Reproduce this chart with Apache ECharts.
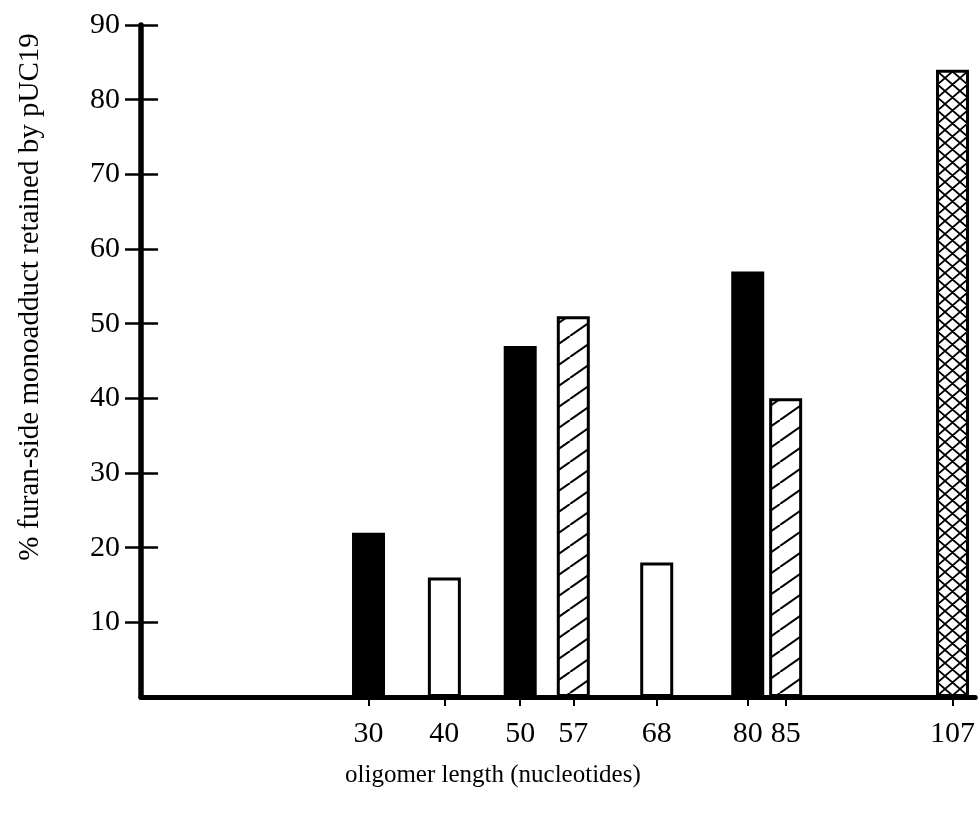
<!DOCTYPE html>
<html><head><meta charset="utf-8">
<script src="https://cdn.jsdelivr.net/npm/echarts@6/dist/echarts.min.js"></script>
<style>html,body{margin:0;padding:0;background:#fff}#c{width:978px;height:816px}</style>
</head><body><div id="c"></div>
<script>
const lengths = [30, 40, 50, 57, 68, 80, 85, 107];
const retained = [22, 16, 47, 51, 18, 57, 40, 84];
const fills = ['solid', 'open', 'solid', 'hatch', 'open', 'solid', 'hatch', 'cross'];
const yTicks = [10, 20, 30, 40, 50, 60, 70, 80, 90];
const xTitle = 'oligomer length (nucleotides)';
const yTitle = '% furan-side monoadduct retained by pUC19';

function makePattern(kind) {
  const c = document.createElement('canvas');
  let w, h;
  if (kind === 'hatch') { w = 30; h = 21; } else { w = 15; h = 13; }
  c.width = w; c.height = h;
  const g = c.getContext('2d');
  g.fillStyle = '#fff'; g.fillRect(0, 0, w, h);
  g.strokeStyle = '#000'; g.lineWidth = kind === 'hatch' ? 2 : 1.8;
  g.beginPath();
  if (kind === 'hatch') {
    for (let k = -1; k <= 1; k++) { g.moveTo(k * w, h); g.lineTo(w + k * w, 0); }
  } else {
    for (let k = -1; k <= 1; k++) {
      g.moveTo(k * w, h); g.lineTo(w + k * w, 0);
      g.moveTo(k * w, 0); g.lineTo(w + k * w, h);
    }
  }
  g.stroke();
  return { image: c, repeat: 'repeat' };
}
const styleFor = {
  solid: { color: '#000', borderColor: '#000', borderWidth: 0 },
  open: { color: '#fff', borderColor: '#000', borderWidth: 3 },
  hatch: { color: makePattern('hatch'), borderColor: '#000', borderWidth: 3 },
  cross: { color: makePattern('cross'), borderColor: '#000', borderWidth: 3 }
};

const font = 'Liberation Serif';
const chart = echarts.init(document.getElementById('c'));
chart.setOption({
  animation: false,
  backgroundColor: '#fff',
  grid: { left: 141, right: 1, top: 25, bottom: 119, containLabel: false },
  xAxis: {
    type: 'value', min: 0, max: 110,
    axisLine: { show: true, onZero: false, lineStyle: { color: '#000', width: 5 } },
    axisTick: { show: true, customValues: lengths, length: 9, lineStyle: { color: '#000', width: 2 } },
    axisLabel: { show: true, customValues: lengths, color: '#000', fontFamily: font, fontSize: 30, margin: 22 },
    splitLine: { show: false }
  },
  yAxis: [{
    type: 'value', min: 0, max: 90, interval: 10,
    axisLine: { show: true, lineStyle: { color: '#000', width: 5.5 } },
    axisTick: { show: true, customValues: yTicks, length: 16, lineStyle: { color: '#000', width: 2.5 } },
    axisLabel: { show: true, customValues: yTicks, color: '#000', fontFamily: font, fontSize: 30, margin: 21 },
    splitLine: { show: false }
  }, {
    type: 'value', min: 0, max: 90, interval: 10, position: 'left',
    axisLine: { show: false },
    axisTick: { show: true, inside: true, customValues: yTicks, length: 17, lineStyle: { color: '#000', width: 2.5 } },
    axisLabel: { show: false },
    splitLine: { show: false }
  }],
  title: {
    text: xTitle, left: 340, top: 758,
    textStyle: { fontFamily: font, fontSize: 25, fontWeight: 'normal', color: '#000' }
  },
  graphic: [{
    type: 'text', x: 30, y: 297, rotation: Math.PI / 2,
    style: { text: yTitle, fontFamily: font, fontSize: 29, fill: '#000', align: 'center', verticalAlign: 'middle' }
  }],
  series: [{
    type: 'bar', barWidth: 33, yAxisIndex: 0,
    data: lengths.map((x, i) => ({ value: [x, retained[i]], itemStyle: styleFor[fills[i]] }))
  }]
});
</script></body></html>
